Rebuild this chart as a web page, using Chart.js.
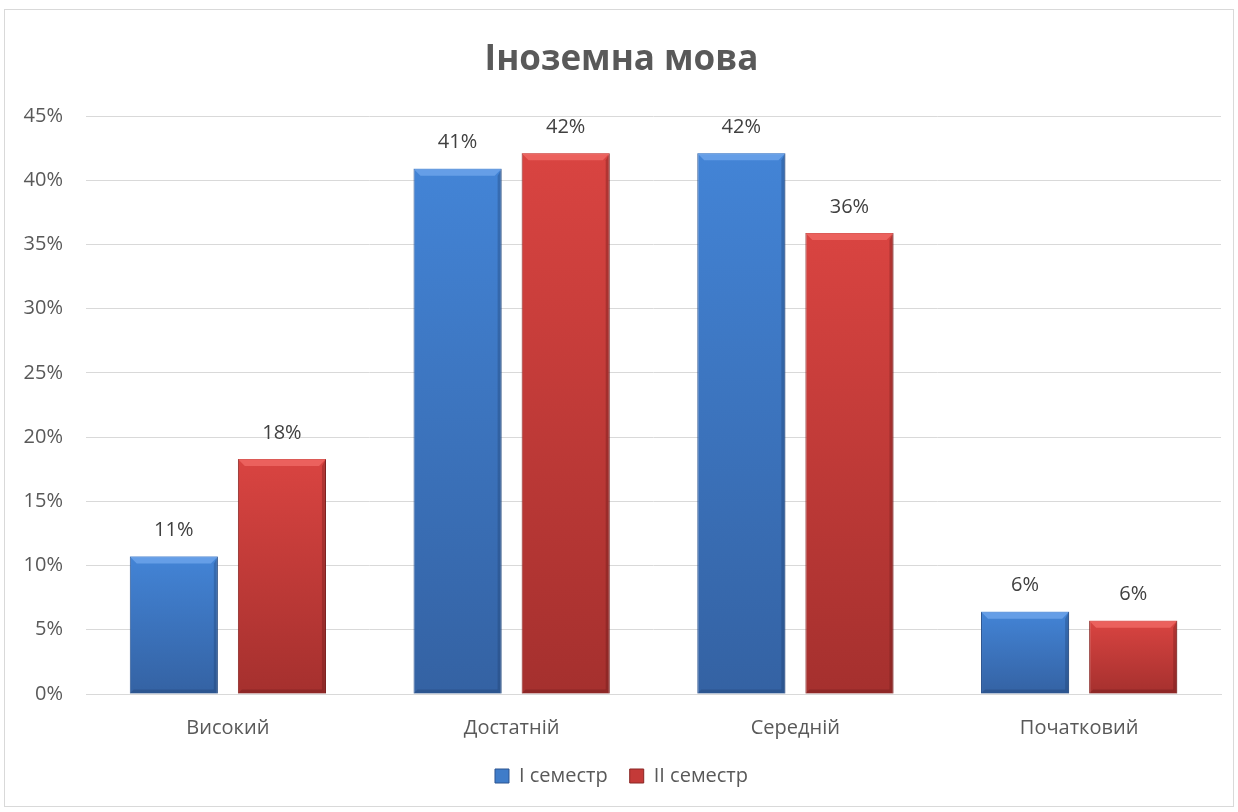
<!DOCTYPE html>
<html>
<head>
<meta charset="utf-8">
<script src="https://cdn.jsdelivr.net/npm/chart.js@4"></script>
<style>
  html, body { margin: 0; padding: 0; background: #fff; }
  #frame {
    position: absolute; left: 4px; top: 9px;
    width: 1228px; height: 796px;
    border: 1px solid #d9d9d9; background: #fff;
  }
  #frame canvas { display: block; }
</style>
</head>
<body>
<div id="frame"><canvas id="chart" width="1228" height="796"></canvas></div>
<script>
const categories = ['Високий', 'Достатній', 'Середній', 'Початковий'];
const semester1 = [10.7, 40.9, 42.1, 6.4];
const semester2 = [18.3, 42.1, 35.9, 5.7];
const seriesNames = ['I семестр', 'II семестр'];
const yTicks = [0, 5, 10, 15, 20, 25, 30, 35, 40, 45];

const FONT = '"Open Sans", "Noto Sans", sans-serif';
const TEXT = '#595959';

// gradient per bar, light at the top, darker at the base
function barFill(top, bottom) {
    return ctx => {
        const chart = ctx.chart;
        if (!chart.chartArea || ctx.type !== 'data') return top;
        const ys = chart.scales.y;
        const y0 = ys.getPixelForValue(ctx.parsed ? ctx.parsed.y : ctx.raw);
        const y1 = ys.getPixelForValue(0);
        const g = chart.ctx.createLinearGradient(0, y0, 0, y1);
        g.addColorStop(0, top);
        g.addColorStop(1, bottom);
        return g;
    };
}

// soft bevel on each bar, like the office style
const bevel = {
    id: 'bevel',
    afterDatasetsDraw(chart) {
        const ctx = chart.ctx;
        const hi = ['rgba(110,165,235,0.8)', 'rgba(240,105,100,0.8)'];
        const sh = ['rgba(25,55,100,0.3)', 'rgba(90,20,20,0.3)'];
        ctx.save();
        chart.data.datasets.forEach((ds, i) => {
            chart.getDatasetMeta(i).data.forEach(bar => {
                const l = bar.x - bar.width / 2, r = bar.x + bar.width / 2;
                const t = bar.y, b = bar.base, d = 7;
                ctx.fillStyle = hi[i];
                ctx.beginPath();
                ctx.moveTo(l, t); ctx.lineTo(r, t); ctx.lineTo(r - d, t + d); ctx.lineTo(l + d, t + d);
                ctx.closePath(); ctx.fill();
                ctx.fillStyle = sh[i];
                ctx.beginPath();
                ctx.moveTo(r, t); ctx.lineTo(r, b); ctx.lineTo(r - 4, b - 4); ctx.lineTo(r - 4, t + d);
                ctx.closePath(); ctx.fill();
                ctx.beginPath();
                ctx.moveTo(l, b); ctx.lineTo(r, b); ctx.lineTo(r - 4, b - 4); ctx.lineTo(l + 4, b - 4);
                ctx.closePath(); ctx.fill();
            });
        });
        ctx.restore();
    }
};

// percent labels above the bars
const valueLabels = {
    id: 'valueLabels',
    afterDatasetsDraw(chart) {
        const ctx = chart.ctx;
        ctx.save();
        ctx.font = `20px ${FONT}`;
        ctx.fillStyle = '#404040';
        ctx.textAlign = 'center';
        ctx.textBaseline = 'middle';
        chart.data.datasets.forEach((ds, i) => {
            chart.getDatasetMeta(i).data.forEach((bar, j) => {
                ctx.fillText(Math.round(ds.data[j]) + '%', bar.x, bar.y - 26);
            });
        });
        ctx.restore();
    }
};

new Chart(document.getElementById('chart'), {
    type: 'bar',
    data: {
        labels: categories,
        datasets: [{
            label: seriesNames[0],
            data: semester1,
            backgroundColor: barFill('#4384d6', '#3462a3'),
            borderColor: '#2d5590',
            borderWidth: 1
        }, {
            label: seriesNames[1],
            data: semester2,
            backgroundColor: barFill('#d94441', '#a5302e'),
            borderColor: '#8a2624',
            borderWidth: 1
        }]
    },
    options: {
        responsive: false,
        animation: false,
        layout: { padding: { left: 17, right: 12, top: 0, bottom: 10 } },
        datasets: { bar: { categoryPercentage: 0.762, barPercentage: 0.815 } },
        plugins: {
            title: {
                display: true,
                text: 'Іноземна мова',
                color: TEXT,
                font: { family: FONT, size: 35, weight: 'bold' },
                padding: { top: 29, bottom: 35 }
            },
            legend: {
                position: 'bottom',
                labels: {
                    color: TEXT,
                    font: { family: FONT, size: 20 },
                    boxWidth: 14,
                    boxHeight: 14,
                    padding: 22,
                    generateLabels(chart) {
                        const fills = ['#3f7cc9', '#c43a38'];
                        return chart.data.datasets.map((ds, i) => ({
                            text: ds.label,
                            fillStyle: fills[i],
                            strokeStyle: ds.borderColor,
                            lineWidth: 1,
                            datasetIndex: i,
                            fontColor: TEXT
                        }));
                    }
                }
            },
            tooltip: { enabled: false }
        },
        scales: {
            x: {
                grid: { display: false },
                border: { color: '#d9d9d9' },
                ticks: { color: TEXT, font: { family: FONT, size: 20 }, padding: 14 },
                afterFit(scale) { scale.height -= 10; }
            },
            y: {
                min: 0,
                max: 45,
                afterBuildTicks(axis) { axis.ticks = yTicks.map(v => ({ value: v })); },
                afterFit(scale) { scale.width = 64; },
                grid: { color: '#d9d9d9', drawTicks: false },
                border: { display: false },
                ticks: {
                    color: TEXT,
                    font: { family: FONT, size: 20 },
                    padding: 23,
                    callback: v => v + '%'
                }
            }
        }
    },
    plugins: [bevel, valueLabels]
});
</script>
</body>
</html>
